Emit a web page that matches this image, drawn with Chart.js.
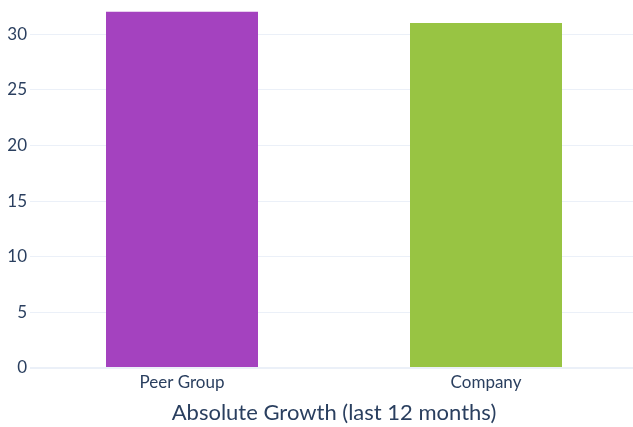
<!DOCTYPE html>
<html>
<head>
<meta charset="utf-8">
<script src="https://cdn.jsdelivr.net/npm/chart.js@4"></script>
<style>
  html, body { margin: 0; padding: 0; background: #fff; overflow: hidden; }
  #wrap { width: 638px; height: 427px; }
</style>
</head>
<body>
<div id="wrap"><canvas id="chart" width="638" height="427"></canvas></div>
<script>
const categories = ['Peer Group', 'Company'];
const growthValues = [32, 31];
const barColors = ['#A442BF', '#98C443'];
const axisTitle = 'Absolute Growth (last 12 months)';

const textColor = '#2a3f5f';
const gridColor = '#EBF0F8';

const ctx = document.getElementById('chart').getContext('2d');

new Chart(ctx, {
    type: 'bar',
    data: {
        labels: categories,
        datasets: [{
            data: growthValues,
            backgroundColor: barColors,
            borderWidth: 0,
            barPercentage: 0.5,
            categoryPercentage: 1
        }]
    },
    options: {
        responsive: false,
        animation: false,
        layout: { padding: 0 },
        plugins: {
            legend: { display: false },
            tooltip: { enabled: false }
        },
        scales: {
            x: {
                grid: { display: false, drawTicks: false },
                border: { display: false },
                ticks: {
                    color: textColor,
                    font: { family: 'Lato', size: 17 },
                    padding: 4
                },
                title: {
                    display: true,
                    text: axisTitle,
                    color: textColor,
                    font: { family: 'Lato', size: 22 },
                    padding: { top: 4, bottom: 1 }
                },
                afterFit: (scale) => {
                    scale.height = 59;
                    scale.paddingLeft = 0;
                    scale.paddingRight = 0;
                }
            },
            y: {
                min: 0,
                max: 33.06,
                grid: {
                    color: gridColor,
                    lineWidth: (c) => (c.tick && c.tick.value === 0 ? 2 : 1),
                    drawTicks: false
                },
                border: { display: false },
                ticks: {
                    stepSize: 5,
                    includeBounds: false,
                    color: textColor,
                    font: { family: 'Lato', size: 17 },
                    padding: 3
                },
                afterFit: (scale) => {
                    scale.width = 30;
                    scale.paddingTop = 0;
                    scale.paddingBottom = 0;
                }
            }
        }
    }
});
</script>
</body>
</html>
